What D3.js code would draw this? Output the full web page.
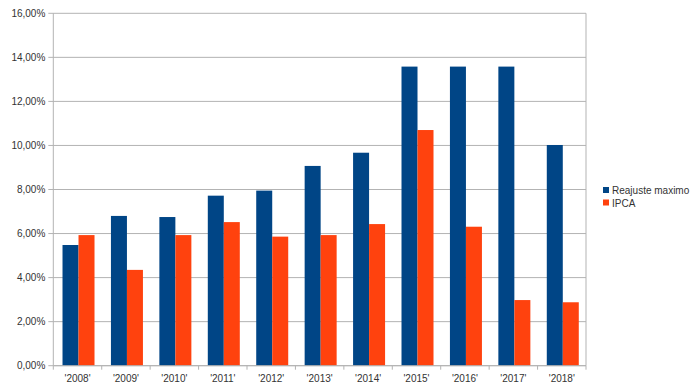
<!DOCTYPE html>
<html>
<head>
<meta charset="utf-8">
<script src="https://cdn.jsdelivr.net/npm/d3@7"></script>
<style>
  body { margin: 0; background: #fff; }
  text { font-family: "Liberation Sans", Arial, sans-serif; fill: #333; }
</style>
</head>
<body>
<div id="chart"></div>
<script>
const years = ["'2008'", "'2009'", "'2010'", "'2011'", "'2012'", "'2013'", "'2014'", "'2015'", "'2016'", "'2017'", "'2018'"];
const reajuste = [5.48, 6.80, 6.75, 7.72, 7.95, 9.07, 9.67, 13.58, 13.58, 13.58, 10.02];
const ipca = [5.93, 4.35, 5.93, 6.52, 5.86, 5.93, 6.43, 10.70, 6.31, 2.98, 2.88];
const seriesNames = ["Reajuste maximo", "IPCA"];
const colors = ["#004586", "#ff420e"];
const yTicks = [0, 2, 4, 6, 8, 10, 12, 14, 16];

const W = 695, H = 391;
const margin = {top: 13.3, right: 109, bottom: 25.3, left: 53.3};
const width = W - margin.left - margin.right;
const height = H - margin.top - margin.bottom;

const svg = d3.select("#chart").append("svg")
  .attr("width", W).attr("height", H);
const g = svg.append("g")
  .attr("transform", `translate(${margin.left},${margin.top})`);

const x = d3.scaleBand().domain(years).range([0, width]).paddingInner(0).paddingOuter(0);
const x1 = d3.scaleBand().domain(seriesNames).range([0, 32]);
const y = d3.scaleLinear().domain([0, 16]).range([height, 0]);

// gridlines
g.selectAll(".grid").data(yTicks).enter().append("line")
  .attr("x1", -5).attr("x2", width)
  .attr("y1", d => y(d)).attr("y2", d => y(d))
  .attr("stroke", "#b3b3b3").attr("stroke-width", 1);

// right border
g.append("line").attr("x1", width).attr("x2", width)
  .attr("y1", 0).attr("y2", height).attr("stroke", "#b3b3b3");

// y axis labels
g.selectAll(".ylab").data(yTicks).enter().append("text")
  .attr("x", -8).attr("y", d => y(d) + 3.5)
  .attr("text-anchor", "end").attr("font-size", 10)
  .text(d => d3.format(".2f")(d).replace(".", ",") + "%");

// bars
const groups = g.selectAll(".yr").data(years).enter().append("g")
  .attr("transform", d => `translate(${x(d) + (x.bandwidth() - 32) / 2 + 1},0)`);
groups.selectAll("rect")
  .data((d, i) => [reajuste[i], ipca[i]].map((v, k) => ({s: seriesNames[k], v, k})))
  .enter().append("rect")
  .attr("x", d => x1(d.s))
  .attr("width", x1.bandwidth())
  .attr("y", d => y(d.v))
  .attr("height", d => height - y(d.v))
  .attr("fill", d => colors[d.k]);

// axes lines
g.append("line").attr("x1", 0).attr("x2", 0).attr("y1", 0).attr("y2", height).attr("stroke", "#b3b3b3");
g.append("line").attr("x1", 0).attr("x2", width).attr("y1", height).attr("y2", height).attr("stroke", "#b3b3b3");
g.selectAll(".xtick").data(d3.range(years.length + 1)).enter().append("line")
  .attr("x1", i => i * x.step()).attr("x2", i => i * x.step())
  .attr("y1", height).attr("y2", height + 4).attr("stroke", "#b3b3b3");

g.selectAll(".xlab").data(years).enter().append("text")
  .attr("x", d => x(d) + x.bandwidth() / 2)
  .attr("y", height + 16)
  .attr("text-anchor", "middle").attr("font-size", 10)
  .text(d => d);

// legend
const leg = svg.append("g").attr("transform", "translate(603,187)");
seriesNames.forEach((n, i) => {
  leg.append("rect").attr("x", 0).attr("y", i * 12.5).attr("width", 6).attr("height", 6).attr("fill", colors[i]);
  leg.append("text").attr("x", 9).attr("y", i * 12.5 + 7).attr("font-size", 10).text(n);
});
</script>
</body>
</html>
